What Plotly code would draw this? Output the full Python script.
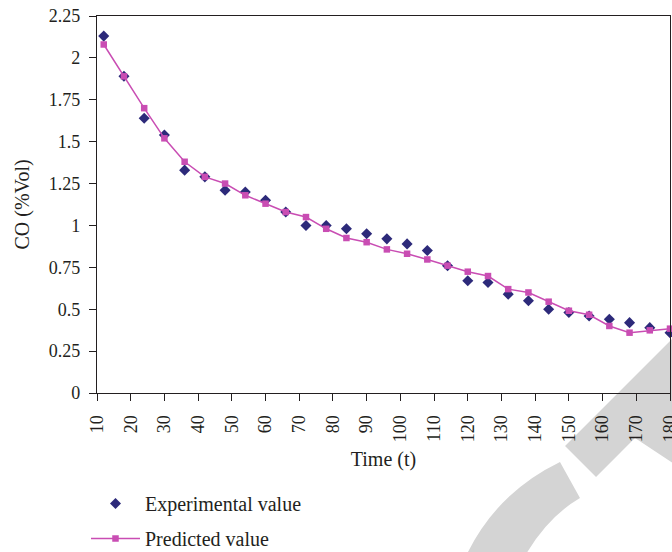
import plotly.graph_objects as go

# ---- data ----
time_t = [12, 18, 24, 30, 36, 42, 48, 54, 60, 66, 72, 78, 84, 90, 96, 102, 108,
          114, 120, 126, 132, 138, 144, 150, 156, 162, 168, 174, 180]
experimental = [2.13, 1.89, 1.64, 1.54, 1.33, 1.29, 1.21, 1.20, 1.15, 1.08, 1.00,
                1.00, 0.98, 0.95, 0.92, 0.89, 0.85, 0.76, 0.67, 0.66, 0.59, 0.55,
                0.50, 0.48, 0.46, 0.44, 0.42, 0.39, 0.36]
predicted = [2.08, 1.89, 1.70, 1.52, 1.38, 1.29, 1.25, 1.18, 1.13, 1.08, 1.05,
             0.98, 0.925, 0.90, 0.857, 0.831, 0.797, 0.76, 0.724, 0.698, 0.62,
             0.60, 0.545, 0.491, 0.467, 0.40, 0.36, 0.374, 0.384]
x_ticks = list(range(10, 181, 10))
y_ticks = [0, 0.25, 0.5, 0.75, 1, 1.25, 1.5, 1.75, 2, 2.25]
y_tick_labels = ["0", "0.25", "0.5", "0.75", "1", "1.25", "1.5", "1.75", "2", "2.25"]
x_title = "Time (t)"
y_title = "CO (%Vol)"

# ---- layout constants ----
W, H = 672, 552
ML, MR, MT, MB = 97, 2, 16, 159
PW, PH = W - ML - MR, H - MT - MB
FONT = "Liberation Serif, Times New Roman, serif"
EXP_COLOR = "#2d2a7a"
PRED_COLOR = "#c94db3"
WM = "#d4d4d4"


def P(px, py):
    return (px - ML) / PW, (MT + PH - py) / PH


def path(cmds):
    out = []
    for c in cmds:
        if isinstance(c, str):
            out.append(c)
        else:
            x, y = P(*c)
            out.append(f"{x:.4f},{y:.4f}")
    return " ".join(out)


fig = go.Figure()
fig.add_trace(go.Scatter(
    x=time_t, y=experimental, mode="markers", name="Experimental value",
    marker=dict(symbol="diamond", size=8.5, color=EXP_COLOR),
    cliponaxis=False, legendgroup="a"))
fig.add_trace(go.Scatter(
    x=time_t, y=predicted, mode="lines+markers", name="Predicted value",
    line=dict(color=PRED_COLOR, width=1.5),
    marker=dict(symbol="square", size=6.5, color=PRED_COLOR),
    cliponaxis=False, legendgroup="b"))

# watermark shapes (background decoration)
band = path(["M", (565, 446), "L", (720, 291), "L", (720, 494), "L", (635, 438),
             "L", (596, 477), "Z"])
arc = path(["M", (466, 556), "Q", (496, 493), (560, 462), "L", (580, 498),
            "Q", (547.5, 517), (525, 556), "Z"])
shapes = [dict(type="path", xref="paper", yref="paper", path=p, fillcolor=WM,
               line=dict(width=0), layer="below") for p in (band, arc)]

yt_x, yt_y = P(22, (MT + MT + PH) / 2)
annotations = [dict(text=y_title, xref="paper", yref="paper", x=yt_x, y=yt_y,
                    xanchor="center", yanchor="middle", textangle=-90,
                    showarrow=False, font=dict(size=20))]

fig.update_layout(
    width=W, height=H,
    margin=dict(l=ML, r=MR, t=MT, b=MB, pad=0, autoexpand=False),
    paper_bgcolor="white", plot_bgcolor="rgba(0,0,0,0)",
    font=dict(family=FONT, size=18, color="#231f20"),
    shapes=shapes,
    annotations=annotations,
    showlegend=True,
    legend=dict(xref="container", yref="container",
                x=86 / W, y=(H - 484) / H, xanchor="left", yanchor="top",
                font=dict(size=20), bgcolor="rgba(0,0,0,0)", itemwidth=49,
                traceorder="grouped", tracegroupgap=6),
    xaxis=dict(range=[10, 180], tickmode="array", tickvals=x_ticks, tickangle=-90,
               showgrid=False, zeroline=False, showline=True, linecolor="#231f20",
               linewidth=1.3, mirror=True, ticks="outside", ticklen=7,
               tickcolor="#231f20", tickwidth=1.3, ticklabelstandoff=7,
               ticklabeloverflow="allow", automargin=False,
               title=dict(text=x_title, font=dict(size=20), standoff=10)),
    yaxis=dict(range=[0, 2.25], tickmode="array", tickvals=y_ticks,
               ticktext=y_tick_labels, showgrid=False, zeroline=False,
               showline=True, linecolor="#231f20", linewidth=1.3, mirror=True,
               ticks="outside", ticklen=7, tickcolor="#231f20", tickwidth=1.3,
               ticklabelstandoff=5, automargin=False),
)

fig.write_html("out.html")
